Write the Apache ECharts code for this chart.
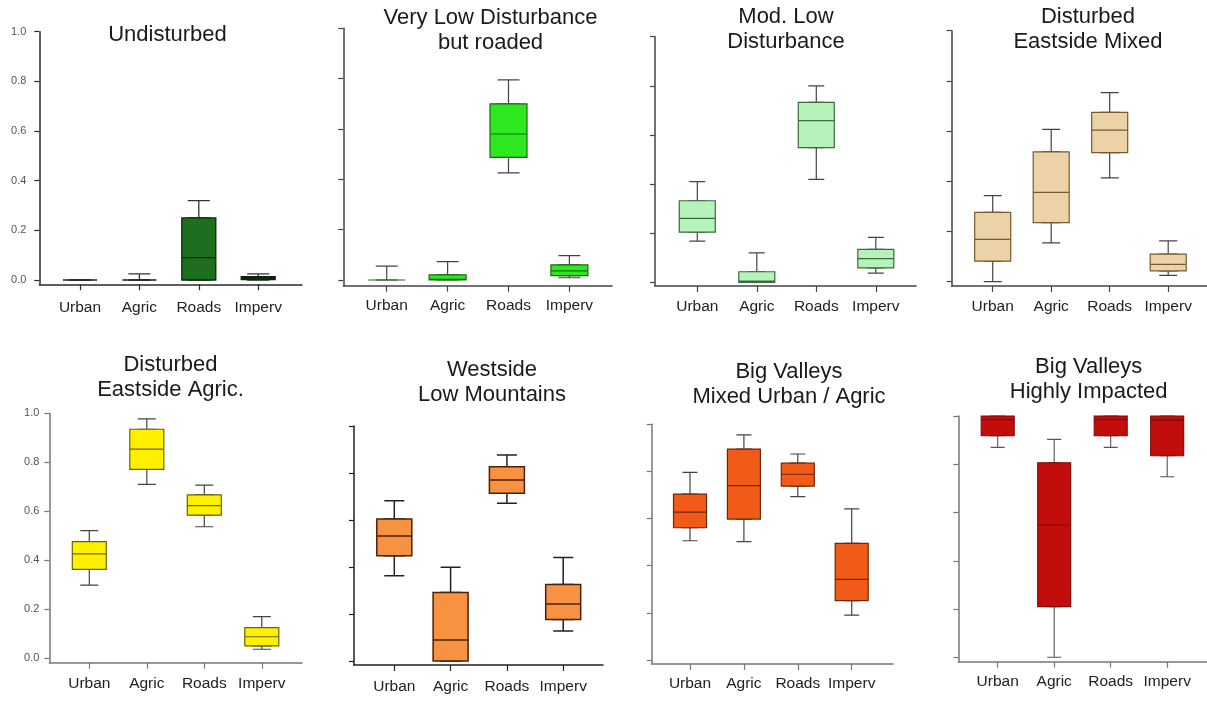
<!DOCTYPE html>
<html>
<head>
<meta charset="utf-8">
<style>
  html, body { margin: 0; padding: 0; background: #fff; }
  #chart { width: 1207px; height: 702px; }
</style>
<script src="https://cdn.jsdelivr.net/npm/echarts@6/dist/echarts.min.js"></script>
</head>
<body>
<div id="chart"></div>
<script>
// ---------------- DATA ----------------
const categories = ['Urban', 'Agric', 'Roads', 'Imperv'];
const panelTitles = [
  'Undisturbed',
  'Very Low Disturbance\nbut roaded',
  'Mod. Low\nDisturbance',
  'Disturbed\nEastside Mixed',
  'Disturbed\nEastside Agric.',
  'Westside\nLow Mountains',
  'Big Valleys\nMixed Urban / Agric',
  'Big Valleys\nHighly Impacted'
];
const yTicks = [0, 0.2, 0.4, 0.6, 0.8, 1.0];

// each row: [min, Q1, median, Q3, max] for Urban, Agric, Roads, Imperv
const undisturbed        = [[0, 0, 0, 0, 0], [0, 0, 0, 0, 0.025], [0, 0, 0.09, 0.25, 0.32], [0, 0.002, 0.007, 0.013, 0.025]];
const veryLowRoaded      = [[0, 0, 0, 0, 0.055], [0, 0, 0.003, 0.02, 0.073], [0.426, 0.487, 0.58, 0.70, 0.795], [0.009, 0.017, 0.036, 0.06, 0.097]];
const modLow             = [[0.168, 0.204, 0.26, 0.332, 0.41], [0, 0, 0.005, 0.043, 0.12], [0.419, 0.548, 0.658, 0.733, 0.80], [0.037, 0.059, 0.096, 0.134, 0.183]];
const eastsideMixed      = [[0, 0.082, 0.169, 0.276, 0.343], [0.155, 0.235, 0.356, 0.517, 0.607], [0.414, 0.514, 0.604, 0.675, 0.753], [0.025, 0.043, 0.069, 0.11, 0.163]];
const eastsideAgric      = [[0.299, 0.363, 0.426, 0.476, 0.521], [0.71, 0.771, 0.854, 0.935, 0.977], [0.537, 0.584, 0.623, 0.667, 0.707], [0.037, 0.051, 0.088, 0.125, 0.17]];
const westsideLowMtn     = [[0.363, 0.448, 0.532, 0.604, 0.682], [0, 0, 0.089, 0.292, 0.399], [0.671, 0.714, 0.77, 0.827, 0.877], [0.128, 0.177, 0.243, 0.326, 0.44]];
const bigValleysMixed    = [[0.506, 0.561, 0.627, 0.704, 0.796], [0.502, 0.598, 0.74, 0.895, 0.955], [0.693, 0.738, 0.788, 0.835, 0.874], [0.19, 0.252, 0.342, 0.495, 0.641]];
const bigValleysImpacted = [[0.87, 0.918, 0.985, 1, 1], [0, 0.21, 0.548, 0.806, 0.903], [0.87, 0.918, 0.985, 1, 1], [0.748, 0.835, 0.983, 1, 1]];

const panelData = [undisturbed, veryLowRoaded, modLow, eastsideMixed, eastsideAgric, westsideLowMtn, bigValleysMixed, bigValleysImpacted];

// ---------------- LAYOUT / STYLE ----------------
const layout = [
  { ax: 39.3,  y1: 31.7,  y0: 280,   xy: 284.3, right: 302,  c0: 80,    sp: 59.4, tx: 167.5,  ty: 22.5,  boxW: 34, capW: 22, lm: 15, labels: true,  lblM: 13, fill: '#1f6e1f', border: '#0c260c', axisC: '#2a2a2a', wC: '#333', bw: 1.3 },
  { ax: 343.3, y1: 28.3,  y0: 280,   xy: 285.7, right: 612,  c0: 386.7, sp: 60.9, tx: 490.5,  ty: 5.5,   boxW: 37, capW: 22, lm: 12, labels: false, lblM: 13, fill: '#2de81e', border: '#1c6a14', axisC: '#444',    wC: '#444', bw: 1.2 },
  { ax: 655,   y1: 36.7,  y0: 282.3, xy: 286,   right: 916,  c0: 697.3, sp: 59.5, tx: 786,    ty: 4,     boxW: 36, capW: 16, lm: 13, labels: false, lblM: 13, fill: '#b5f3bb', border: '#3d6a41', axisC: '#444',    wC: '#444', bw: 1.2 },
  { ax: 951.7, y1: 30.7,  y0: 281.7, xy: 286,   right: 1207, c0: 992.7, sp: 58.5, tx: 1088,   ty: 4,     boxW: 36, capW: 18, lm: 13, labels: false, lblM: 13, fill: '#ebd3a7', border: '#7a5a2c', axisC: '#444',    wC: '#444', bw: 1.2 },
  { ax: 49.3,  y1: 413.3, y0: 658.3, xy: 662.7, right: 302,  c0: 89.3,  sp: 57.5, tx: 170.5,  ty: 352.5, boxW: 34, capW: 18, lm: 13, labels: true,  lblM: 10, fill: '#fff000', border: '#6b6400', axisC: '#777',    wC: '#444', bw: 1.2 },
  { ax: 354,   y1: 426,   y0: 661,   xy: 665,   right: 603,  c0: 394.3, sp: 56.3, tx: 492,    ty: 357.5, boxW: 35, capW: 20, lm: 14, labels: false, lblM: 10, fill: '#f79242', border: '#4a220a', axisC: '#222',    wC: '#222', bw: 1.5 },
  { ax: 651.7, y1: 424.3, y0: 660,   xy: 664,   right: 893,  c0: 690,   sp: 53.9, tx: 789,    ty: 359,   boxW: 33, capW: 15, lm: 12, labels: false, lblM: 10, fill: '#f25a17', border: '#6b280a', axisC: '#777',    wC: '#444', bw: 1.2 },
  { ax: 958.3, y1: 416,   y0: 657.3, xy: 661.7, right: 1207, c0: 997.7, sp: 56.5, tx: 1088.7, ty: 354,   boxW: 33, capW: 14, lm: 12, labels: false, lblM: 10, fill: '#c20d0d', border: '#800808', axisC: '#777',    wC: '#555', bw: 1.1 }
];

const FONT = '"Liberation Sans", Arial, sans-serif';

const titles = [], grids = [], xAxes = [], yAxes = [], series = [];

layout.forEach((L, k) => {
  const yMin = -(L.xy - L.y0) / (L.y0 - L.y1);
  const h = L.xy - L.y1;

  titles.push({
    text: panelTitles[k],
    left: L.tx, top: L.ty, textAlign: 'center', padding: 0,
    textStyle: { fontFamily: FONT, fontSize: 22, fontWeight: 'normal', color: '#1a1a1a', lineHeight: 25 }
  });

  grids.push({ left: L.ax, top: L.y1, width: L.right - L.ax, height: h, outerBoundsMode: 'none', containLabel: false });
  grids.push({ left: L.c0 - L.sp / 2, top: L.y1, width: L.sp * 4, height: h, outerBoundsMode: 'none', containLabel: false });

  const gOuter = 2 * k, gInner = 2 * k + 1;

  xAxes.push({
    type: 'value', gridIndex: gOuter, min: 0, max: 1,
    axisLine: { show: true, onZero: false, lineStyle: { color: L.axisC, width: 1.5 } },
    axisTick: { show: false }, axisLabel: { show: false }, splitLine: { show: false }
  });
  xAxes.push({
    type: 'category', gridIndex: gInner, data: categories, boundaryGap: true,
    axisLine: { show: false, onZero: false },
    axisTick: { show: true, alignWithLabel: true, length: 6, lineStyle: { color: L.axisC, width: 1.2 } },
    axisLabel: { show: true, margin: L.lm, fontFamily: FONT, fontSize: 15.5, color: '#222', interval: 0 },
    splitLine: { show: false }
  });
  xAxes.push({
    type: 'category', gridIndex: gInner, data: categories, boundaryGap: true, show: false,
    axisLine: { onZero: false }
  });

  yAxes.push({
    type: 'value', gridIndex: gOuter, min: yMin, max: 1,
    axisLine: { show: true, onZero: false, lineStyle: { color: L.axisC, width: 1.5 } },
    axisTick: { show: true, length: 5, customValues: yTicks, lineStyle: { color: L.axisC, width: 1.2 } },
    axisLabel: {
      show: L.labels, customValues: yTicks, margin: L.lblM,
      fontFamily: FONT, fontSize: 11, color: '#555',
      formatter: v => v.toFixed(1)
    },
    splitLine: { show: false }
  });
  yAxes.push({
    type: 'value', gridIndex: gInner, min: yMin, max: 1, show: false,
    axisLine: { onZero: false }, splitLine: { show: false }
  });

  const raw = panelData[k];
  series.push({
    type: 'boxplot', xAxisIndex: 3 * k + 2, yAxisIndex: 2 * k + 1, z: 2,
    boxWidth: [L.capW, L.capW],
    data: raw.map(r => r.slice()),
    itemStyle: { color: 'rgba(0,0,0,0)', borderColor: L.wC, borderWidth: L.bw },
    emphasis: { disabled: true }, silent: true
  });
  series.push({
    type: 'boxplot', xAxisIndex: 3 * k + 1, yAxisIndex: 2 * k + 1, z: 3,
    boxWidth: [L.boxW, L.boxW],
    data: raw.map(r => [r[1], r[1], r[2], r[3], r[3]]),
    itemStyle: { color: L.fill, borderColor: L.border, borderWidth: L.bw },
    emphasis: { disabled: true }, silent: true
  });
});

const chart = echarts.init(document.getElementById('chart'), null, { renderer: 'canvas' });
chart.setOption({
  animation: false,
  backgroundColor: '#ffffff',
  title: titles,
  grid: grids,
  xAxis: xAxes,
  yAxis: yAxes,
  tooltip: { show: false },
  series: series
});
</script>
</body>
</html>
